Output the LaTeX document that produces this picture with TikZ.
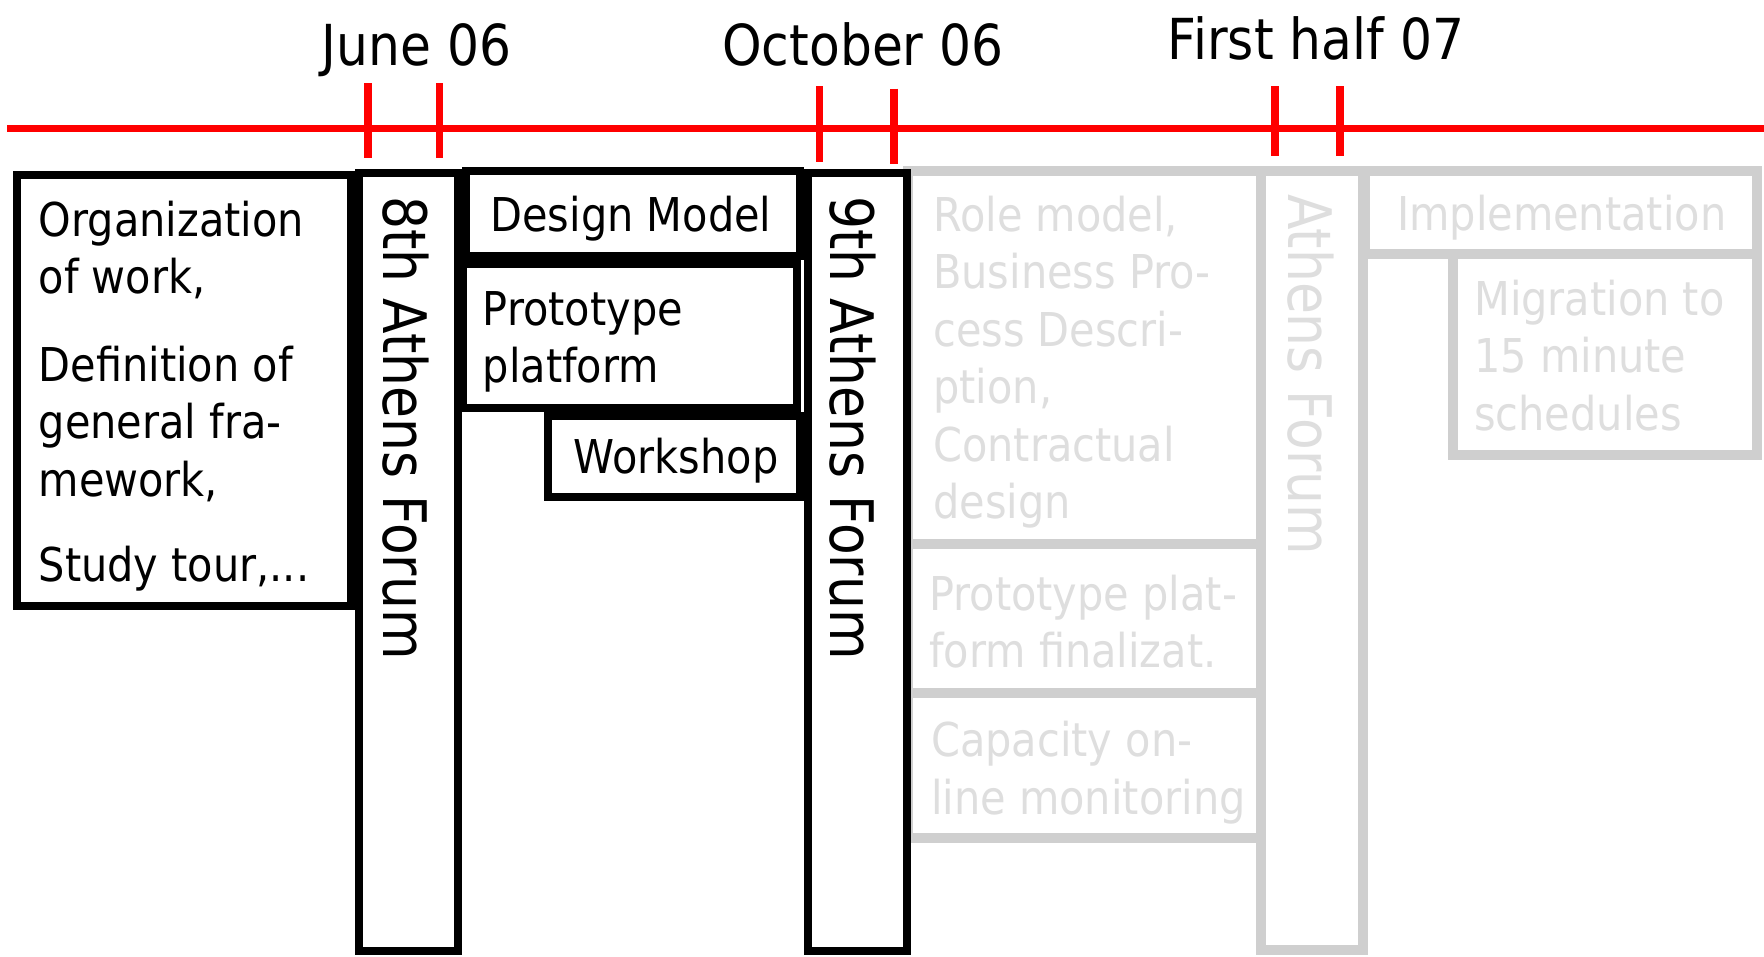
\documentclass[tikz,border=0pt]{standalone}
\usepackage{fontspec}
\setmainfont{DejaVu Sans}[FakeStretch=0.89]
\newfontfamily\vertfont{DejaVu Sans}[FakeStretch=0.865]
\newcommand\stacklines[1]{\begin{tabular}[t]{@{}l@{}}#1\end{tabular}}
\tikzset{
  blackbox/.style={draw=black, line width=8pt},
  ghostbox/.style={draw=black!19, line width=10pt},
  ticker/.style={draw=red, line width=7.6pt},
  timeline/.style={draw=red, line width=7.4pt},
  bodytext/.style={font=\fontsize{46.6}{57.5}\selectfont, inner sep=0pt, text=black},
  ghosttext/.style={bodytext, text=black!13},
  headtext/.style={font=\fontsize{56.5}{60}\selectfont, inner sep=0pt, anchor=base},
  verttext/.style={font=\vertfont\fontsize{60}{60}\selectfont, inner sep=0pt, rotate=-90, anchor=base west},
}
\begin{document}
\begin{tikzpicture}[x=1pt,y=-1pt]
\useasboundingbox (0,0) rectangle (1764,956);
\fill[white] (0,0) rectangle (1764,956);

% timeline
\coordinate (tl0) at (7,128.7);
\coordinate (tl1) at (1764,128.7);
\draw[timeline] (tl0) -- (tl1);
\draw[ticker] (368,83) -- (368,158);
\draw[ticker] (439.5,83) -- (439.5,158);
\draw[ticker] (819.5,86) -- (819.5,162);
\draw[ticker] (894,88.5) -- (894,164);
\draw[ticker] (1274.7,86) -- (1274.7,156);
\draw[ticker] (1340,86) -- (1340,156);

\node[headtext] (june) at (416.5,65) {June 06};
\node[headtext] (oct) at (863,65) {October 06};
\node[headtext] (first) at (1316,59) {First half 07};

% ghost (future) boxes
\draw[ghostbox] (908,170.5) rectangle (1261,544);
\draw[ghostbox] (908,544) rectangle (1261,693);
\draw[ghostbox] (908,693) rectangle (1261,838);
\draw[ghostbox] (1261,170.5) rectangle (1363,950);
\draw[ghostbox] (1365,170.5) rectangle (1757,254);
\draw[ghostbox] (1453,254) rectangle (1757,455);

\node[ghosttext, anchor=base west] (role) at (933,231)
  {\stacklines{Role model,\\Business Pro-\\cess Descri-\\ption,\\Contractual\\design}};
\node[ghosttext, anchor=base west] (protofin) at (929,610)
  {\stacklines{Prototype plat-\\form finalizat.}};
\node[ghosttext, anchor=base west] (capacity) at (931,756.7)
  {\stacklines{Capacity on-\\line monitoring}};
\node[verttext, text=black!13] (athens) at (1288,194) {Athens Forum};
\node[ghosttext, anchor=base] (impl) at (1561.7,230) {Implementation};
\node[ghosttext, anchor=base west] (migr) at (1474,315)
  {\stacklines{Migration to\\15 minute\\schedules}};

% black boxes
\draw[blackbox] (17,174.5) rectangle (351,605.5);
\draw[blackbox] (359,172.5) rectangle (457.5,951);
\draw[blackbox] (466,171) rectangle (799.5,256);
\draw[blackbox] (462.5,264) rectangle (796.5,407.5);
\draw[blackbox] (548.3,415.5) rectangle (800,497);
\draw[blackbox] (808,172.5) rectangle (906.5,951);

\node[bodytext, anchor=base west] (org) at (38.5,236)
  {\stacklines{Organization\\of work,\\[30pt]Definition of\\general fra-\\mework,\\[27.5pt]Study tour,...}};
\node[verttext] (forum8) at (383,196) {8th Athens Forum};
\node[bodytext, anchor=base] (design) at (631,231.7) {Design Model};
\node[bodytext, anchor=base west] (proto) at (482.6,325)
  {\stacklines{Prototype\\platform}};
\node[bodytext, anchor=base] (workshop) at (676,473.3) {Workshop};
\node[verttext] (forum9) at (830,196) {9th Athens Forum};
\end{tikzpicture}
\end{document}
